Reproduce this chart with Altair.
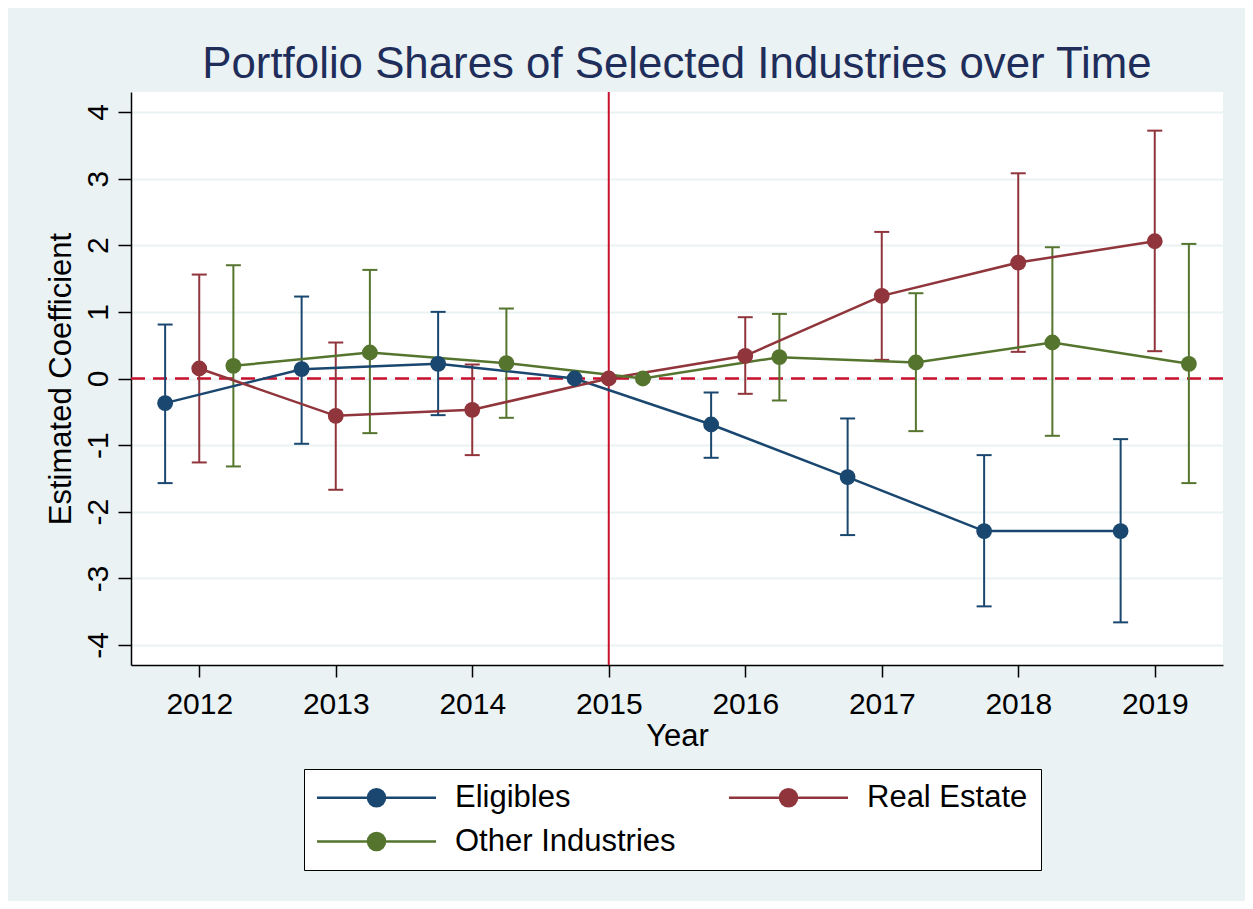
import altair as alt
import pandas as pd

FONT = "Liberation Sans"

years = [2012, 2013, 2014, 2015, 2016, 2017, 2018, 2019]
series = ["Eligibles", "Real Estate", "Other Industries"]
offsets = [-0.25, 0.0, 0.25]
colors = ["#1A476F", "#90353B", "#55752F"]

elig_est = [-0.37, 0.14, 0.22, 0.0, -0.69, -1.48, -2.29, -2.29]
elig_lo = [-1.57, -0.98, -0.55, None, -1.19, -2.35, -3.42, -3.66]
elig_hi = [0.81, 1.23, 1.00, None, -0.21, -0.60, -1.15, -0.91]

re_est = [0.15, -0.56, -0.47, 0.0, 0.34, 1.24, 1.74, 2.06]
re_lo = [-1.26, -1.67, -1.15, None, -0.23, 0.28, 0.40, 0.41]
re_hi = [1.56, 0.54, 0.21, None, 0.92, 2.20, 3.08, 3.72]

oth_est = [0.19, 0.39, 0.23, 0.0, 0.32, 0.24, 0.54, 0.22]
oth_lo = [-1.32, -0.82, -0.59, None, -0.33, -0.79, -0.86, -1.57]
oth_hi = [1.70, 1.63, 1.05, None, 0.97, 1.28, 1.97, 2.02]

event_year = [2015]
zero_ref = [0]

rows = []
for name, off, est, lo, hi in zip(
    series, offsets,
    [elig_est, re_est, oth_est],
    [elig_lo, re_lo, oth_lo],
    [elig_hi, re_hi, oth_hi],
):
    for yr, e, l, h in zip(years, est, lo, hi):
        rows.append({"series": name, "year": yr, "xpos": yr + off,
                     "est": e, "lo": l, "hi": h})
df = pd.DataFrame(rows)

xscale = alt.Scale(domain=[2011.5, 2019.5], nice=False, zero=False)
yscale = alt.Scale(domain=[-4.3, 4.3], nice=False, zero=False)

xaxis = alt.Axis(values=years, format="d", title="Year", grid=False,
                 labelFontSize=30, tickSize=12, labelPadding=12,
                 titlePadding=2)
yaxis = alt.Axis(values=list(range(-4, 5)), title="Estimated Coefficient",
                 labelExpr="'' + datum.value",
                 grid=True, gridColor="#EAF2F3", gridWidth=2,
                 labelAngle=270, labelAlign="center", labelBaseline="alphabetic",
                 labelFontSize=30, tickSize=13, labelPadding=11, titlePadding=6)

SYMBOL = "M-7,0H7M-1,0A1,1,0,1,0,1,0A1,1,0,1,0,-1,0Z"

legend = alt.Legend(
    title=None, orient="none", legendX=173, legendY=677, columns=2,
    direction="horizontal",
    strokeColor="black", fillColor="white", padding=13,
    labelFont=FONT, labelFontSize=31, labelColor="black", labelLimit=0,
    rowPadding=12, columnPadding=48,
    symbolType=SYMBOL, symbolSize=289, symbolStrokeWidth=2.5,
    symbolOffset=44, labelOffset=63, symbolOpacity=1,
)

color = alt.Color("series:N", scale=alt.Scale(domain=series, range=colors),
                  sort=series, legend=legend)

base = alt.Chart(df)

vline = alt.Chart(pd.DataFrame({"yr": event_year})).mark_rule(
    color="#C8102E", strokeWidth=2
).encode(x=alt.X("yr:Q", scale=xscale, axis=xaxis))

hline = alt.Chart(pd.DataFrame({"v": zero_ref})).mark_rule(
    color="#C8102E", strokeWidth=2.5, strokeDash=[14, 8]
).encode(y=alt.Y("v:Q", scale=yscale, axis=yaxis))

ci = base.transform_filter("isValid(datum.lo)")

bars = ci.mark_rule(strokeWidth=2).encode(
    x=alt.X("xpos:Q", scale=xscale, axis=xaxis),
    y=alt.Y("lo:Q", scale=yscale, axis=yaxis),
    y2="hi:Q",
    color=color,
)
cap_lo = ci.mark_tick(orient="horizontal", size=15, thickness=2, opacity=1).encode(
    x=alt.X("xpos:Q", scale=xscale, axis=xaxis),
    y=alt.Y("lo:Q", scale=yscale, axis=yaxis),
    color=color,
)
cap_hi = ci.mark_tick(orient="horizontal", size=15, thickness=2, opacity=1).encode(
    x=alt.X("xpos:Q", scale=xscale, axis=xaxis),
    y=alt.Y("hi:Q", scale=yscale, axis=yaxis),
    color=color,
)
lines = base.mark_line(strokeWidth=2.5).encode(
    x=alt.X("xpos:Q", scale=xscale, axis=xaxis),
    y=alt.Y("est:Q", scale=yscale, axis=yaxis),
    color=color,
    order="xpos:Q",
)
points = base.mark_circle(size=250, opacity=1).encode(
    x=alt.X("xpos:Q", scale=xscale, axis=xaxis),
    y=alt.Y("est:Q", scale=yscale, axis=yaxis),
    color=color,
)

chart = alt.layer(vline, hline, bars, cap_lo, cap_hi, lines, points).properties(
    width=1092, height=573,
    autosize=alt.AutoSizeParams(type="none"),
    padding={"left": 123, "top": 84, "right": 22, "bottom": 236},
    background="#EAF2F3",
    title=alt.TitleParams(
        "Portfolio Shares of Selected Industries over Time",
        font=FONT, fontSize=43.8, fontWeight="normal", color="#1E2D5A",
        anchor="middle", baseline="alphabetic", offset=-31, frame="group",
    ),
).configure_view(fill="white", stroke=None).configure_axis(
    labelFont=FONT, titleFont=FONT, labelColor="black", titleColor="black",
    titleFontSize=31, titleFontWeight="normal",
    domainColor="black", domainWidth=1.5, tickColor="black", tickWidth=1.5,
)

chart.save("out.html", embed_options={"renderer": "svg", "actions": False})
